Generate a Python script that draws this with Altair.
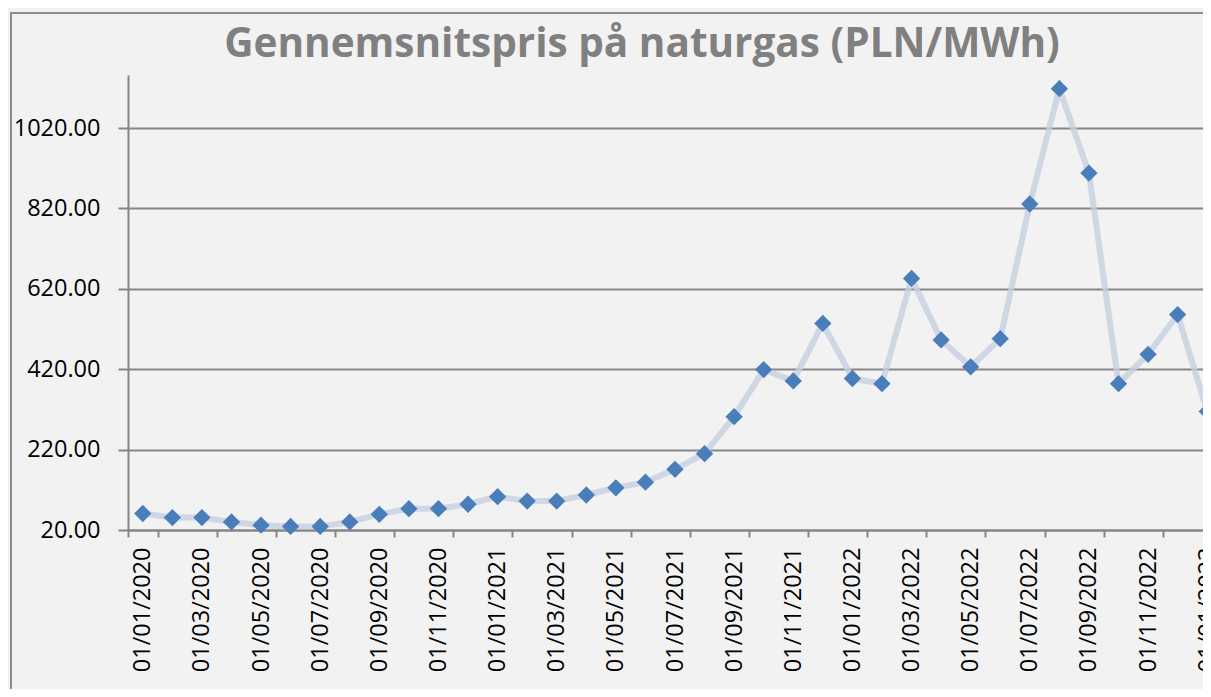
import altair as alt
import pandas as pd

# Monthly categories (first day of each month), Jan 2020 .. Jan 2023
months = [f"01/{m:02d}/{y}" for y in (2020, 2021, 2022) for m in range(1, 13)] + ["01/01/2023"]

# Average natural gas price, PLN/MWh
prices = [61, 51, 51, 40, 32, 29, 29, 40, 59, 73, 73, 84,
          103, 92, 92, 107, 125, 139, 171, 210, 302, 419, 391, 534,
          397, 384, 646, 493, 426, 496, 831, 1118, 908, 384, 457, 556,
          315]

y_ticks = [20, 220, 420, 620, 820, 1020]
x_labels = months[::2]
title_text = "Gennemsnitspris på naturgas (PLN/MWh)"

df = pd.DataFrame({"month": months, "price": prices})

FONT = "Open Sans"
GRAY = "#868686"

x_enc = alt.X(
    "month:O",
    sort=months,
    title=None,
    scale=alt.Scale(type="band", paddingInner=0, paddingOuter=0),
    axis=alt.Axis(
        values=x_labels,
        tickBand="extent",
        labelAngle=270,
        labelAlign="right",
        labelBaseline="middle",
        labelPadding=10,
        labelFont=FONT,
        labelFontSize=23.5,
        labelColor="#000000",
        labelOverlap=False,
        labelBound=False,
        tickSize=7,
        tickColor=GRAY,
        tickWidth=2,
        domainColor=GRAY,
        domainWidth=2,
        grid=False,
    ),
)

y_enc = alt.Y(
    "price:Q",
    title=None,
    scale=alt.Scale(domain=[20, 1152], nice=False, zero=False),
    axis=alt.Axis(
        values=y_ticks,
        format=".2f",
        labelFont=FONT,
        labelFontSize=23.5,
        labelColor="#000000",
        labelPadding=18,
        tickSize=10,
        tickColor=GRAY,
        tickWidth=2,
        domainColor=GRAY,
        domainWidth=2,
        grid=True,
        gridColor=GRAY,
        gridWidth=2,
    ),
)

base = alt.Chart(df).encode(x=x_enc, y=y_enc)

line = base.mark_line(color="#c4d0de", opacity=0.8, strokeWidth=6)
points = base.mark_point(shape="diamond", filled=True, color="#4a7ebb", opacity=1, size=300)

frame = alt.Chart(alt.Data(values=[{}])).mark_rect(
    filled=False, stroke="#8c8c8c", strokeWidth=2
).encode(
    x=alt.value(-117), x2=alt.value(1400),
    y=alt.value(-62), y2=alt.value(900),
)

chart = alt.layer(frame, line, points).properties(
    width=1094,
    height=455,
    padding={"left": 120, "top": 67, "right": -19, "bottom": 159},
    autosize=alt.AutoSizeParams(type="none"),
    background="#f2f2f2",
    title=alt.TitleParams(
        text=title_text,
        font=FONT,
        fontSize=40.5,
        fontWeight="bold",
        color="#808080",
        anchor="middle",
        frame="group",
        dx=-33,
        baseline="alphabetic",
        offset=-85,
    ),
).configure_view(stroke=None)

chart.save("out.html", embed_options={"renderer": "svg", "actions": False})
